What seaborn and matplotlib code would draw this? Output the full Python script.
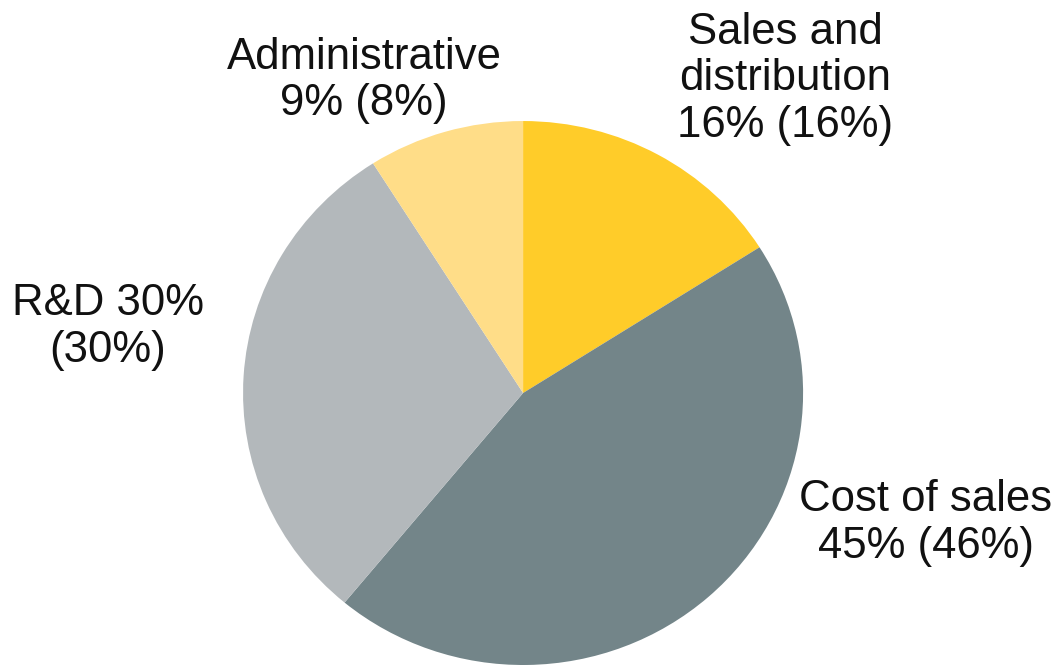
import matplotlib
matplotlib.use("Agg")
import matplotlib.pyplot as plt
import seaborn as sns

# Cost breakdown, clockwise from 12 o'clock
categories = ["Sales and\ndistribution", "Cost of sales", "R&D", "Administrative"]
shares = [16, 45, 30, 9]
prior_shares = [16, 46, 30, 8]
colors = ["#FFCC29", "#738589", "#B3B8BB", "#FFDD88"]

sns.set_theme(style="white")
plt.rcParams["font.family"] = ["Liberation Sans", "DejaVu Sans"]

fig = plt.figure(figsize=(10.61, 6.65), dpi=100)
ax = fig.add_axes([0, 0, 1, 1])

ax.pie(shares, colors=sns.color_palette(colors), startangle=90, counterclock=False,
       radius=1.0, wedgeprops=dict(linewidth=0))
ax.set_aspect("auto")
ax.set_xlim(-1.868, 1.921)
ax.set_ylim(-1.0, 1.445)
ax.axis("off")

labels = [
    f"{categories[0]}\n{shares[0]}% ({prior_shares[0]}%)",
    f"{categories[1]}\n{shares[1]}% ({prior_shares[1]}%)",
    f"{categories[2]} {shares[2]}%\n({prior_shares[2]}%)",
    f"{categories[3]}\n{shares[3]}% ({prior_shares[3]}%)",
]
positions = [(0.936, 1.155), (1.439, -0.478), (-1.482, 0.242), (-0.568, 1.148)]
for text, (x, y) in zip(labels, positions):
    ax.text(x, y, text, ha="center", va="center", fontsize=31.5,
            linespacing=1.17, color="#111111")

fig.savefig("out.png", dpi=100)
